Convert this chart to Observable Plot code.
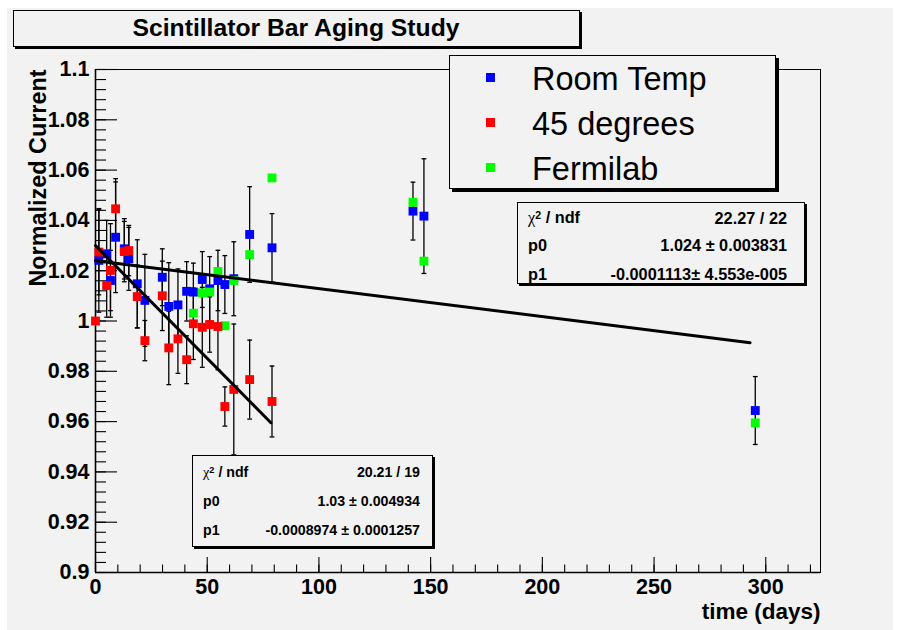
<!DOCTYPE html>
<html><head><meta charset="utf-8">
<script src="https://cdn.jsdelivr.net/npm/d3@7"></script>
<script src="https://cdn.jsdelivr.net/npm/@observablehq/plot@0.6"></script>
<style>
html,body{margin:0;padding:0;background:#fff;}
#wrap{position:relative;width:901px;height:630px;font-family:"Liberation Sans",Arial,Helvetica,sans-serif;overflow:hidden;}
#bg{position:absolute;left:7px;top:8px;width:886px;height:622px;background:#f2f2f2;}
#wrap svg{position:absolute;left:0;top:0;}
.box{position:absolute;box-sizing:border-box;border:1px solid #000;background:#f2f2f2;}
.t{position:absolute;white-space:nowrap;line-height:1;color:#000;transform:translateY(-50%);}
.r{transform:translate(-100%,-50%);}
.chi{font-family:"Liberation Serif","Times New Roman",serif;font-weight:normal;}
sup{font-size:65%;line-height:0;vertical-align:0.45em;}
</style></head>
<body><div id="wrap"><div id="bg"></div></div>
<script>
// ---- data ----
const seriesNames = ["Room Temp", "45 degrees", "Fermilab"];
const seriesColors = ["#0000ff", "#ff0000", "#00ff00"];

const roomDays = [1.5, 5.0, 6.7, 9.0, 12.9, 14.9, 18.7, 22.1, 29.9, 32.8, 36.9, 40.8, 43.8, 47.8, 51.1, 54.8, 57.9, 61.9, 69.0, 79.0, 142.1, 147.0, 295.3];
const roomVals = [1.0241, 1.0267, 1.0161, 1.0333, 1.0287, 1.0247, 1.0148, 1.0082, 1.0174, 1.0058, 1.0064, 1.0118, 1.0115, 1.0165, 1.0128, 1.0161, 1.0145, 1.0168, 1.0344, 1.0291, 1.0437, 1.0417, 0.9644];
const roomErrs = [0.0206, 0.0133, 0.012, 0.022, 0.012, 0.0125, 0.0175, 0.0183, 0.0113, 0.0174, 0.0143, 0.0118, 0.0115, 0.0111, 0.0128, 0.012, 0.0115, 0.0147, 0.019, 0.0136, 0.0115, 0.0228, 0.0135];

const hotDays = [0, 1.5, 5.0, 6.7, 9.0, 12.9, 14.9, 18.7, 22.1, 29.9, 32.8, 36.9, 40.8, 43.8, 47.8, 51.1, 54.8, 57.9, 61.9, 69.0, 79.0];
const hotVals = [1.000, 1.0274, 1.0141, 1.0201, 1.0446, 1.0276, 1.0280, 1.0097, 0.9922, 1.0100, 0.9893, 0.9929, 0.9846, 0.9989, 0.9975, 0.9986, 0.9978, 0.9660, 0.9728, 0.9767, 0.9680];
const hotErrs = [0, 0.017, 0.0126, 0.0186, 0.012, 0.012, 0.0100, 0.0125, 0.008, 0.0138, 0.0146, 0.0137, 0.0095, 0.0142, 0.0159, 0.011, 0.0172, 0.0078, 0.026, 0.0157, 0.0141];

const fnalDays = [43.8, 47.8, 51.1, 54.8, 57.9, 61.9, 69.0, 79.0, 142.1, 147.0, 295.3];
const fnalVals = [1.0031, 1.0112, 1.0115, 1.0197, 0.9981, 1.0161, 1.0264, 1.0569, 1.0472, 1.0238, 0.9595];
const fnalErrs = [0.001, 0.001, 0.001, 0.001, 0.001, 0.001, 0.001, 0.001, 0.001, 0.001, 0.001];

// fits (parameters as displayed)
const fitP0 = [1.024, 1.03];
const fitP1 = [-0.0001113, -0.0008974];
const fitRange = [[0, 293], [0, 78.5]];

// axes
const xMajor = [0, 50, 100, 150, 200, 250, 300];
const xTickLabels = ["0", "50", "100", "150", "200", "250", "300"];
const yMajor = [0.9, 0.92, 0.94, 0.96, 0.98, 1.0, 1.02, 1.04, 1.06, 1.08, 1.1];
const yTickLabels = ["0.9", "0.92", "0.94", "0.96", "0.98", "1", "1.02", "1.04", "1.06", "1.08", "1.1"];
const xMinor = d3.range(0, 324, 10);
const yMinor = d3.range(0.9, 1.1001, 0.004);

// texts
const titleText = "Scintillator Bar Aging Study";
const xTitle = "time (days)";
const yTitle = "Normalized Current";
const stats1 = [["22.27 / 22"], ["1.024 \u00b1 0.003831"], ["-0.0001113\u00b1 4.553e-005"]];
const stats2 = [["20.21 / 19"], ["1.03 \u00b1 0.004934"], ["-0.0008974 \u00b1 0.0001257"]];

// ---- build rows (draw order: Room Temp, Fermilab, 45 degrees) ----
function mk(name, days, vals, errs) {
  return days.map((d, i) => ({series: name, day: d, val: vals[i], err: errs[i]}));
}
const rows = [
  ...mk(seriesNames[0], roomDays, roomVals, roomErrs),
  ...mk(seriesNames[2], fnalDays, fnalVals, fnalErrs),
  ...mk(seriesNames[1], hotDays, hotVals, hotErrs)
];
const barRows = rows.filter(d => d.err > 0);
const capRows = barRows.flatMap(d => [{day: d.day, y: d.val - d.err}, {day: d.day, y: d.val + d.err}]);
const fitLines = fitRange.flatMap((r, i) => r.map(t => ({fit: i, t, v: fitP0[i] + fitP1[i] * t})));

const capSymbol = {draw(ctx, size) { const r = Math.sqrt(size / Math.PI); ctx.moveTo(-r, 0); ctx.lineTo(r, 0); }};
const fontFam = '"Liberation Sans", Arial, Helvetica, sans-serif';

const plot = Plot.plot({
  width: 901, height: 630,
  marginLeft: 95, marginRight: 81, marginTop: 69, marginBottom: 58,
  style: {fontFamily: fontFam, fontSize: "21.5px", fontWeight: "bold", background: "transparent", overflow: "visible"},
  x: {domain: [0, 324.5], ticks: xMajor, tickSize: 0, tickPadding: 6.5, label: null,
      tickFormat: d => xTickLabels[xMajor.findIndex(v => Math.abs(v - d) < 1e-9)]},
  y: {domain: [0.9, 1.1], ticks: yMajor, tickSize: 0, tickPadding: 6, label: null,
      tickFormat: d => yTickLabels[yMajor.findIndex(v => Math.abs(v - d) < 1e-9)]},
  color: {domain: seriesNames, range: seriesColors},
  marks: [
    Plot.frame({stroke: "black", strokeWidth: 1}),
    // inward ticks
    Plot.ruleX(xMinor, {x: d => d, y1: 0.9, y2: 0.9, insetTop: 0, insetBottom: 7.5, stroke: "black", strokeWidth: 1.1}),
    Plot.ruleX(xMajor, {x: d => d, y1: 0.9, y2: 0.9, insetTop: 0, insetBottom: 15, stroke: "black", strokeWidth: 1.1}),
    Plot.ruleY(yMinor, {y: d => d, x1: 0, x2: 0, insetLeft: 0, insetRight: -11, stroke: "black", strokeWidth: 1.1}),
    Plot.ruleY(yMajor, {y: d => d, x1: 0, x2: 0, insetLeft: 0, insetRight: -22, stroke: "black", strokeWidth: 1.1}),
    Plot.ruleX([0], {stroke: "black", strokeWidth: 1.6}),
    Plot.ruleY([0.9], {stroke: "black", strokeWidth: 1.6}),
    // error bars
    Plot.ruleX(barRows, {x: "day", y1: d => d.val - d.err, y2: d => d.val + d.err, stroke: "black", strokeWidth: 1.3}),
    Plot.dot(capRows, {x: "day", y: "y", symbol: capSymbol, r: 2.4, stroke: "black", strokeWidth: 1.3}),
    // markers
    Plot.dot(rows, {x: "day", y: "val", symbol: "square", r: 5, fill: "series", stroke: null}),
    // fits
    Plot.line(fitLines, {x: "t", y: "v", z: "fit", stroke: "black", strokeWidth: 3}),
    // axis titles
    Plot.text([xTitle], {text: d => d, frameAnchor: "bottom-right", textAnchor: "end", lineAnchor: "top", dy: 31, fontSize: 22.5, fontWeight: "bold"}),
    Plot.text([yTitle], {text: d => d, frameAnchor: "top-left", textAnchor: "end", lineAnchor: "middle", rotate: -90, dx: -57, fontSize: 23.4, fontWeight: "bold"})
  ]
});
const wrap = document.getElementById("wrap");
wrap.appendChild(plot);

// ---- overlays: title, legend, stats boxes ----
function box(l, t, w, h, shadow) {
  const b = document.createElement("div");
  b.className = "box";
  Object.assign(b.style, {left: l + "px", top: t + "px", width: w + "px", height: h + "px", boxShadow: `${shadow}px ${shadow}px 0 0 #000`});
  wrap.appendChild(b);
  return b;
}
function txt(html, x, y, size, weight, right) {
  const s = document.createElement("div");
  s.className = "t" + (right ? " r" : "");
  s.innerHTML = html;
  Object.assign(s.style, {left: x + "px", top: y + "px", fontSize: size + "px", fontWeight: weight});
  wrap.appendChild(s);
  return s;
}
// title
box(13, 10, 567, 37, 2);
const tt = txt(titleText, 296, 28, 24.7, "bold");
tt.style.transform = "translate(-50%,-50%)";

// legend
box(449, 55, 327, 134, 3);
const legY = [77.5, 122.5, 167.5];
seriesNames.forEach((n, i) => {
  const m = document.createElement("div");
  Object.assign(m.style, {position: "absolute", left: (490 - 4.5) + "px", top: (legY[i] - 4.5) + "px", width: "9px", height: "9px", background: seriesColors[i]});
  wrap.appendChild(m);
  txt(n, 532, legY[i] + 1, 32.5, "normal");
});

// stats boxes
const statLabels = ['<span class="chi">&chi;</span><sup>2</sup> / ndf', "p0", "p1"];
box(517, 202, 288, 82, 2);
const s1y = [218, 245, 274];
statLabels.forEach((l, i) => { txt(l, 528, s1y[i], 16.3, "bold"); txt(stats1[i][0], 787, s1y[i], 16.3, "bold", true); });
box(192, 455, 241, 92, 2);
const s2y = [472, 501, 530];
statLabels.forEach((l, i) => { txt(l, 203, s2y[i], 14.2, "bold"); txt(stats2[i][0], 420, s2y[i], 14.2, "bold", true); });
</script>
</body></html>
